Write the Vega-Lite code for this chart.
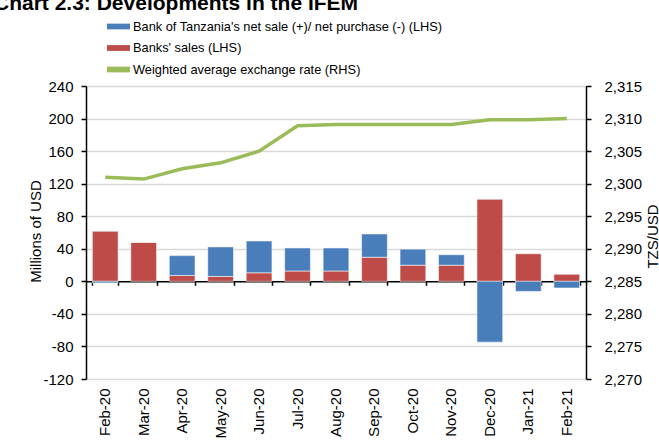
{
  "$schema": "https://vega.github.io/schema/vega-lite/v6.json",
  "width": 500,
  "height": 293,
  "autosize": {"type": "none"},
  "padding": {"left": 86, "top": 86, "right": 73, "bottom": 64},
  "background": "white",
  "title": {
    "text": "Chart 2.3: Developments in the IFEM",
    "anchor": "start",
    "frame": "group",
    "font": "Liberation Sans",
    "fontSize": 21,
    "fontWeight": "bold",
    "color": "black",
    "dx": -92,
    "offset": 1
  },
  "config": {
    "view": {"stroke": null},
    "axis": {
      "labelFont": "Liberation Sans",
      "labelFontSize": 15,
      "labelColor": "black",
      "titleFont": "Liberation Sans",
      "titleFontSize": 15,
      "titleFontWeight": "normal",
      "titleColor": "black",
      "domainColor": "black",
      "tickColor": "black"
    }
  },
  "datasets": {
    "bars": [
      {"month": "Feb-20", "series": "Banks' sales (LHS)", "value": 61.5},
      {"month": "Feb-20", "series": "Bank of Tanzania's net sale (+)/ net purchase (-) (LHS)", "value": -2},
      {"month": "Mar-20", "series": "Banks' sales (LHS)", "value": 48},
      {"month": "Mar-20", "series": "Bank of Tanzania's net sale (+)/ net purchase (-) (LHS)", "value": 0},
      {"month": "Apr-20", "series": "Banks' sales (LHS)", "value": 7.2},
      {"month": "Apr-20", "series": "Bank of Tanzania's net sale (+)/ net purchase (-) (LHS)", "value": 24.4},
      {"month": "May-20", "series": "Banks' sales (LHS)", "value": 6},
      {"month": "May-20", "series": "Bank of Tanzania's net sale (+)/ net purchase (-) (LHS)", "value": 36.3},
      {"month": "Jun-20", "series": "Banks' sales (LHS)", "value": 10.5},
      {"month": "Jun-20", "series": "Bank of Tanzania's net sale (+)/ net purchase (-) (LHS)", "value": 39.1},
      {"month": "Jul-20", "series": "Banks' sales (LHS)", "value": 12.7},
      {"month": "Jul-20", "series": "Bank of Tanzania's net sale (+)/ net purchase (-) (LHS)", "value": 28.3},
      {"month": "Aug-20", "series": "Banks' sales (LHS)", "value": 12.7},
      {"month": "Aug-20", "series": "Bank of Tanzania's net sale (+)/ net purchase (-) (LHS)", "value": 28.3},
      {"month": "Sep-20", "series": "Banks' sales (LHS)", "value": 29.6},
      {"month": "Sep-20", "series": "Bank of Tanzania's net sale (+)/ net purchase (-) (LHS)", "value": 28.6},
      {"month": "Oct-20", "series": "Banks' sales (LHS)", "value": 19.8},
      {"month": "Oct-20", "series": "Bank of Tanzania's net sale (+)/ net purchase (-) (LHS)", "value": 19.8},
      {"month": "Nov-20", "series": "Banks' sales (LHS)", "value": 19.8},
      {"month": "Nov-20", "series": "Bank of Tanzania's net sale (+)/ net purchase (-) (LHS)", "value": 12.9},
      {"month": "Dec-20", "series": "Banks' sales (LHS)", "value": 100.8},
      {"month": "Dec-20", "series": "Bank of Tanzania's net sale (+)/ net purchase (-) (LHS)", "value": -74.7},
      {"month": "Jan-21", "series": "Banks' sales (LHS)", "value": 33.9},
      {"month": "Jan-21", "series": "Bank of Tanzania's net sale (+)/ net purchase (-) (LHS)", "value": -12.4},
      {"month": "Feb-21", "series": "Banks' sales (LHS)", "value": 8.7},
      {"month": "Feb-21", "series": "Bank of Tanzania's net sale (+)/ net purchase (-) (LHS)", "value": -8.2}
    ],
    "rate": [
      {"month": "Feb-20", "rate": 2301.0},
      {"month": "Mar-20", "rate": 2300.7},
      {"month": "Apr-20", "rate": 2302.3},
      {"month": "May-20", "rate": 2303.2},
      {"month": "Jun-20", "rate": 2305.0},
      {"month": "Jul-20", "rate": 2308.9},
      {"month": "Aug-20", "rate": 2309.1},
      {"month": "Sep-20", "rate": 2309.1},
      {"month": "Oct-20", "rate": 2309.1},
      {"month": "Nov-20", "rate": 2309.1},
      {"month": "Dec-20", "rate": 2309.8},
      {"month": "Jan-21", "rate": 2309.8},
      {"month": "Feb-21", "rate": 2310.0}
    ]
  },
  "layer": [
    {
      "data": {"name": "bars"},
      "mark": {"type": "bar", "stroke": "white", "strokeOpacity": 0.55, "strokeWidth": 1},
      "encoding": {
        "x": {
          "field": "month",
          "type": "nominal",
          "scale": {
            "domain": ["Feb-20", "Mar-20", "Apr-20", "May-20", "Jun-20", "Jul-20", "Aug-20", "Sep-20", "Oct-20", "Nov-20", "Dec-20", "Jan-21", "Feb-21"],
            "paddingInner": 0.33,
            "paddingOuter": 0.165
          },
          "axis": {
            "orient": "bottom",
            "offset": -97.7,
            "labels": false,
            "title": null,
            "domain": true,
            "domainWidth": 1.5,
            "ticks": true,
            "tickBand": "extent",
            "tickSize": 4,
            "tickWidth": 1.5,
            "grid": false
          }
        },
        "y": {
          "field": "value",
          "type": "quantitative",
          "stack": "zero",
          "scale": {"domain": [-120, 240], "nice": false, "zero": false},
          "axis": {
            "orient": "left",
            "values": [-120, -80, -40, 0, 40, 80, 120, 160, 200, 240],
            "labelExpr": "datum.value < 0 ? '-' + abs(datum.value) : '' + datum.value",
            "title": "Millions of USD",
            "titleX": -51,
            "titleY": 145,
            "titleAngle": -90,
            "titleAlign": "center",
            "titleBaseline": "middle",
            "grid": true,
            "gridColor": "#d9d9d9",
            "gridWidth": 1.5,
            "domainWidth": 1.5,
            "tickSize": 5,
            "tickWidth": 1.5,
            "labelPadding": 8
          }
        },
        "color": {
          "field": "series",
          "type": "nominal",
          "scale": {
            "domain": ["Bank of Tanzania's net sale (+)/ net purchase (-) (LHS)", "Banks' sales (LHS)", "Weighted average exchange rate (RHS)"],
            "range": ["#4A7EBB", "#BE4B48", "#9BBB59"]
          },
          "legend": {
            "title": null,
            "orient": "none",
            "legendX": 21,
            "legendY": -71,
            "padding": 0,
            "rowPadding": 2.5,
            "symbolSize": 529,
            "symbolType": "M-1,-0.25H1V0.25H-1Z",
            "symbolStrokeWidth": 0,
            "labelFont": "Liberation Sans",
            "labelFontSize": 12.8,
            "labelColor": "black",
            "labelOffset": 3,
            "labelLimit": 500,
            "encode": {
              "symbols": {
                "update": {
                  "shape": {"signal": "datum.value === 'Weighted average exchange rate (RHS)' ? 'M-1,-0.14H1V0.14H-1Z' : 'M-1,-0.25H1V0.25H-1Z'"}
                }
              }
            }
          }
        },
        "order": {"field": "series", "sort": "descending"}
      }
    },
    {
      "data": {"name": "rate"},
      "mark": {"type": "line", "strokeWidth": 3.5, "color": "#9BBB59"},
      "encoding": {
        "x": {
          "field": "month",
          "type": "nominal",
          "axis": {
            "orient": "bottom",
            "title": null,
            "labelAngle": -90,
            "labelAlign": "right",
            "labelBaseline": "middle",
            "labelPadding": 9,
            "domain": false,
            "ticks": false,
            "grid": false
          }
        },
        "y": {
          "field": "rate",
          "type": "quantitative",
          "scale": {"domain": [2270, 2315], "nice": false, "zero": false},
          "axis": {
            "orient": "right",
            "values": [2270, 2275, 2280, 2285, 2290, 2295, 2300, 2305, 2310, 2315],
            "format": ",",
            "title": "TZS/USD",
            "titleX": 66,
            "titleY": 150,
            "titleAngle": -90,
            "titleAlign": "center",
            "titleBaseline": "middle",
            "grid": false,
            "domainWidth": 1.5,
            "tickSize": 5,
            "tickWidth": 1.5,
            "labelPadding": 13
          }
        },
        "color": {"datum": "Weighted average exchange rate (RHS)"}
      }
    }
  ],
  "resolve": {"scale": {"y": "independent"}, "axis": {"x": "independent"}}
}
